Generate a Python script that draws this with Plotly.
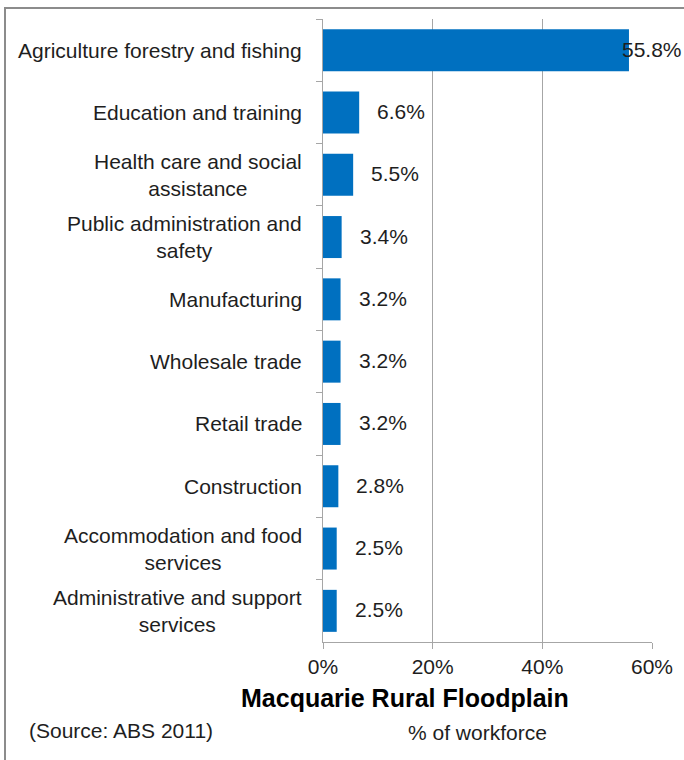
import plotly.graph_objects as go

# Workforce share by industry, Macquarie Rural Floodplain (ABS 2011)
industries = [
    "Agriculture forestry and fishing",
    "Education and training",
    "Health care and social<br>assistance",
    "Public administration and<br>safety",
    "Manufacturing",
    "Wholesale trade",
    "Retail trade",
    "Construction",
    "Accommodation and food<br>services",
    "Administrative and support<br>services",
]
share_pct = [55.8, 6.6, 5.5, 3.4, 3.2, 3.2, 3.2, 2.8, 2.5, 2.5]
x_ticks = [0, 20, 40, 60]
x_tick_labels = ["0%", "20%", "40%", "60%"]

FONT = "Liberation Sans, Arial, sans-serif"
TEXT = "#1e1e1e"
GRID = "#a6a6a6"
BAR = "#0070C0"
FONT_SIZE = 21

W, H = 684, 760
ML, MR, MT, MB = 323, 32, 19, 118
PW = W - ML - MR
PH = H - MT - MB

fig = go.Figure(
    go.Bar(
        x=share_pct,
        y=industries,
        orientation="h",
        marker=dict(color=BAR, line=dict(width=0)),
        hoverinfo="x+y",
    )
)

annotations = []
# category labels: wrapped lines centred, block right edge just left of the axis
for name in industries:
    annotations.append(dict(
        x=0, y=name, xref="x", yref="y", text=name, showarrow=False,
        xanchor="right", yanchor="middle", align="center", xshift=-19,
        font=dict(family=FONT, size=FONT_SIZE, color=TEXT),
    ))

# value labels at the end of each bar
for name, v in zip(industries, share_pct):
    shift = -9 if v > 50 else 16
    annotations.append(dict(
        x=v, y=name, xref="x", yref="y", text=f"{v:.1f}%", showarrow=False,
        xanchor="left", yanchor="middle", xshift=shift, yshift=1,
        font=dict(family=FONT, size=FONT_SIZE, color=TEXT),
    ))
# title, axis caption and source note
annotations += [
    dict(x=0, y=0, xref="paper", yref="paper", text="<b>Macquarie Rural Floodplain</b>",
         showarrow=False, xanchor="center", yanchor="middle", xshift=82, yshift=-56,
         font=dict(family=FONT, size=25, color="#000000")),
    dict(x=0, y=0, xref="paper", yref="paper", text="% of workforce",
         showarrow=False, xanchor="center", yanchor="middle", xshift=154, yshift=-90,
         font=dict(family=FONT, size=FONT_SIZE, color=TEXT)),
    dict(x=0, y=0, xref="paper", yref="paper", text="(Source: ABS 2011)",
         showarrow=False, xanchor="left", yanchor="middle", xshift=27 - ML, yshift=-88,
         font=dict(family=FONT, size=FONT_SIZE, color=TEXT)),
]

fig.update_layout(
    template="none",
    width=W, height=H,
    margin=dict(l=ML, r=MR, t=MT, b=MB),
    paper_bgcolor="white", plot_bgcolor="white",
    showlegend=False,
    bargap=0.326,
    annotations=annotations,
    shapes=[dict(
        type="rect", xref="paper", yref="paper",
        x0=(5 - ML) / PW, x1=1.3, y0=-0.5, y1=1 + (MT - 8) / PH,
        line=dict(color="#8c8c8c", width=2), fillcolor="rgba(0,0,0,0)", layer="below",
    )],
)

fig.update_xaxes(
    range=[0, 60], tickvals=x_ticks, ticktext=x_tick_labels,
    showgrid=True, gridcolor=GRID, gridwidth=1, zeroline=False,
    showline=True, linecolor=GRID, linewidth=1,
    ticks="outside", ticklen=6, tickcolor=GRID,
    tickfont=dict(family=FONT, size=FONT_SIZE, color=TEXT),
    fixedrange=True,
)
fig.update_yaxes(
    autorange="reversed", showticklabels=False,
    showgrid=False, zeroline=False,
    showline=True, linecolor=GRID, linewidth=1,
    ticks="outside", ticklen=6, tickcolor=GRID, tickson="boundaries",
    fixedrange=True,
)

fig.write_html("out.html", config={"displayModeBar": False})
